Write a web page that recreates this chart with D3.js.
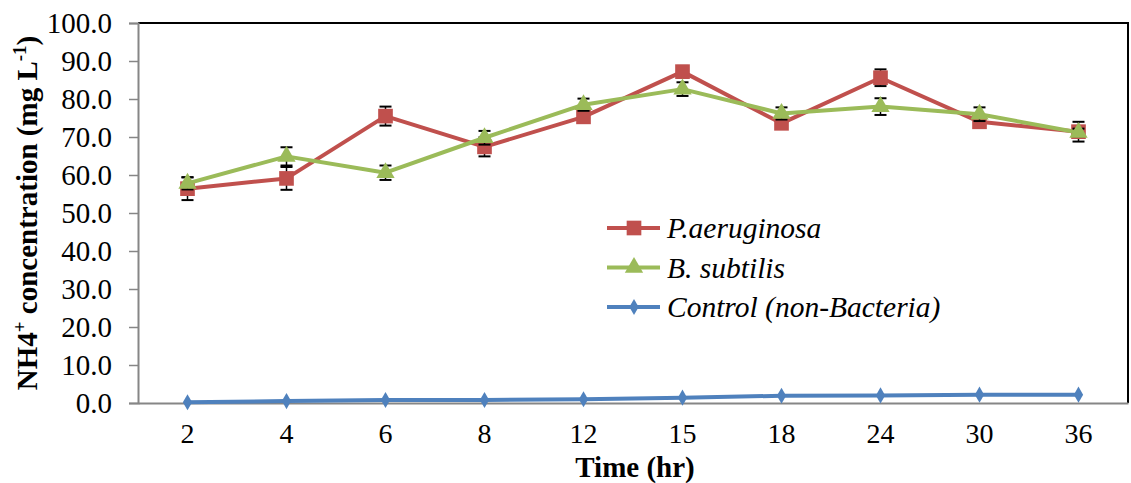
<!DOCTYPE html>
<html>
<head>
<meta charset="utf-8">
<script src="https://cdn.jsdelivr.net/npm/d3@7"></script>
<style>
  body { margin: 0; background: #fff; }
</style>
</head>
<body>
<div id="chart"></div>
<script>
const width = 1131
const height = 483
const FONT = 'Liberation Serif'

// data
const times = ['2', '4', '6', '8', '12', '15', '18', '24', '30', '36'];
const paeruginosa = [56.4, 59.1, 75.5, 67.4, 75.3, 87.2, 73.6, 85.6, 74.0, 71.4];
const paeruginosaErr = [3.0, 3.0, 2.5, 2.5, 1.0, 1.5, 1.0, 2.2, 1.0, 2.6];
const bsubtilis = [57.8, 64.9, 60.6, 69.8, 78.5, 82.6, 76.2, 78.0, 76.0, 71.2];
const bsubtilisErr = [1.6, 2.4, 1.9, 1.8, 1.6, 1.8, 1.6, 2.2, 1.8, 1.0];
const control = [0.2, 0.5, 0.8, 0.8, 1.0, 1.4, 1.9, 2.0, 2.2, 2.2];
const yTicks = [0, 10, 20, 30, 40, 50, 60, 70, 80, 90, 100];

const margin = {top: 23, right: 3, bottom: 80, left: 138};

const svg = d3.select('#chart').append('svg').attr('width', width).attr('height', height);

const x = d3.scaleBand()
    .domain(times)
    .range([margin.left, width - margin.right]);

const y = d3.scaleLinear()
    .domain([0, 100])
    .range([height - margin.bottom, margin.top]);

// frame top + right
svg.append('path')
    .attr('d', 'M' + margin.left + ',' + margin.top + 'H' + (width - margin.right) + 'V' + y(0))
    .attr('fill', 'none')
    .attr('stroke', '#000')
    .attr('stroke-width', 2);

// y axis
const yAxis = svg.append('g')
    .attr('transform', 'translate(' + margin.left + ',0)')
    .call(d3.axisLeft(y).tickValues(yTicks).tickFormat(d3.format('.1f')).tickSize(9).tickPadding(17));
yAxis.attr('font-family', FONT);
yAxis.select('.domain').attr('stroke', '#868686').attr('stroke-width', 2);
yAxis.selectAll('.tick line').attr('stroke', '#868686').attr('stroke-width', 1.5);
yAxis.selectAll('.tick text').attr('font-family', FONT).attr('font-size', 29).attr('fill', '#000').attr('dy', '0.33em');

// x axis
const xAxis = svg.append('g')
    .attr('transform', 'translate(0,' + y(0) + ')')
    .call(d3.axisBottom(x).tickSize(0).tickPadding(20));
xAxis.attr('font-family', FONT);
xAxis.select('.domain').attr('stroke', '#868686').attr('stroke-width', 2);
xAxis.selectAll('.tick text').attr('font-family', FONT).attr('font-size', 28).attr('fill', '#000');

// axis titles
svg.append('text')
    .attr('x', (margin.left + width - margin.right) / 2 + 2)
    .attr('y', 477)
    .attr('text-anchor', 'middle')
    .attr('font-family', FONT)
    .attr('font-size', 29)
    .attr('font-weight', 'bold')
    .text('Time (hr)');

const ytitle = svg.append('text')
    .attr('transform', 'translate(37,' + 213 + ') rotate(-90)')
    .attr('text-anchor', 'middle')
    .attr('font-family', FONT)
    .attr('font-size', 29)
    .attr('font-weight', 'bold');
ytitle.append('tspan').text('NH4');
ytitle.append('tspan').attr('dy', -11).attr('font-size', 19).text('+');
ytitle.append('tspan').attr('dy', 11).text(' concentration (mg L');
ytitle.append('tspan').attr('dy', -11).attr('font-size', 19).text('-1');
ytitle.append('tspan').attr('dy', 11).text(')');

const cx = d => x(d) + x.bandwidth() / 2;

const series = [
  {name: 'P.aeruginosa', values: paeruginosa, err: paeruginosaErr, color: '#C0504D', symbol: d3.symbolSquare, size: 215},
  {name: 'B. subtilis', values: bsubtilis, err: bsubtilisErr, color: '#9BBB59', symbol: d3.symbolTriangle, size: 145},
  {name: 'Control (non-Bacteria)', values: control, err: null, color: '#4F81BD', symbol: d3.symbolDiamond, size: 75}
];

const line = d3.line()
    .x((d, i) => cx(times[i]))
    .y(d => y(d));

series.forEach(s => {
  const g = svg.append('g');
  g.append('path')
      .datum(s.values)
      .attr('d', line)
      .attr('fill', 'none')
      .attr('stroke', s.color)
      .attr('stroke-width', 4)
      .attr('stroke-linejoin', 'round');

  if (s.err) {
    const eb = g.selectAll('.err')
        .data(s.values.map((v, i) => ({t: times[i], v: v, e: s.err[i]})))
        .enter().append('g');
    eb.append('line')
        .attr('x1', d => cx(d.t)).attr('x2', d => cx(d.t))
        .attr('y1', d => y(d.v + d.e)).attr('y2', d => y(d.v - d.e))
        .attr('stroke', '#000').attr('stroke-width', 1.5);
    [1, -1].forEach(sign => {
      eb.append('line')
          .attr('x1', d => cx(d.t) - 6).attr('x2', d => cx(d.t) + 6)
          .attr('y1', d => y(d.v + sign * d.e)).attr('y2', d => y(d.v + sign * d.e))
          .attr('stroke', '#000').attr('stroke-width', 2);
    });
  }

  g.selectAll('.pt')
      .data(s.values)
      .enter().append('path')
      .attr('transform', (d, i) => 'translate(' + cx(times[i]) + ',' + y(d) + ')')
      .attr('d', d3.symbol().type(s.symbol).size(s.size))
      .attr('fill', s.color);
});

// legend
const legend = svg.append('g').attr('transform', 'translate(607,228)');
series.forEach((s, i) => {
  const row = legend.append('g').attr('transform', 'translate(0,' + (i * 39.5) + ')');
  row.append('line')
      .attr('x1', 0).attr('x2', 53).attr('y1', 0).attr('y2', 0)
      .attr('stroke', s.color).attr('stroke-width', 4);
  row.append('path')
      .attr('transform', 'translate(27,0)')
      .attr('d', d3.symbol().type(s.symbol).size(s.size))
      .attr('fill', s.color);
  row.append('text')
      .attr('x', 60)
      .attr('y', 10)
      .attr('font-family', FONT)
      .attr('font-size', 29.5)
      .attr('font-style', 'italic')
      .text(s.name);
});
</script>
</body>
</html>
